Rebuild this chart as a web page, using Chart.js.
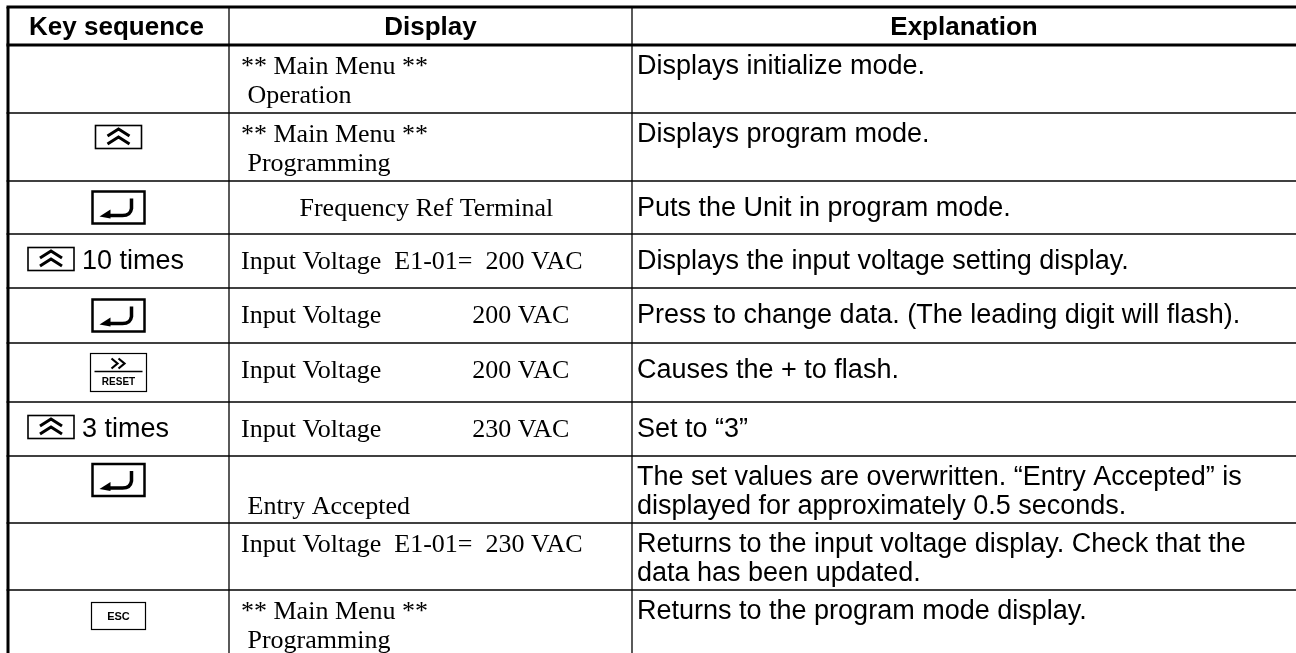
<!DOCTYPE html>
<html>
<head>
<meta charset="utf-8">
<title>Key sequence table</title>
<script src="https://cdn.jsdelivr.net/npm/chart.js"></script>
<style>
  html, body { margin: 0; padding: 0; background: #fff; }
  #wrap { width: 1296px; height: 653px; }
</style>
</head>
<body>
<div id="wrap"><canvas id="tableChart" width="1296" height="653"></canvas></div>
<script>
// Column headers
const headers = ['Key sequence', 'Display', 'Explanation'];

// Key column: key pressed in each step and the repeat note beside it
const keyIcons = ['', 'up', 'enter', 'up', 'enter', 'reset', 'up', 'enter', '', 'esc'];
const keyNotes = ['', '', '', '10 times', '', '', '3 times', '', '', ''];

// Display column: what the operator screen shows (line 1, line 2)
const displayLines = [
  ['** Main Menu **', ' Operation'],
  ['** Main Menu **', ' Programming'],
  ['         Frequency Ref Terminal'],
  ['Input Voltage  E1-01=  200 VAC'],
  ['Input Voltage              200 VAC'],
  ['Input Voltage              200 VAC'],
  ['Input Voltage              230 VAC'],
  ['', ' Entry Accepted'],
  ['Input Voltage  E1-01=  230 VAC'],
  ['** Main Menu **', ' Programming']
];

// Explanation column
const explanations = [
  ['Displays initialize mode.'],
  ['Displays program mode.'],
  ['Puts the Unit in program mode.'],
  ['Displays the input voltage setting display.'],
  ['Press to change data. (The leading digit will flash).'],
  ['Causes the + to flash.'],
  ['Set to \u201c3\u201d'],
  ['The set values are overwritten. \u201cEntry Accepted\u201d is', 'displayed for approximately 0.5 seconds.'],
  ['Returns to the input voltage display. Check that the', 'data has been updated.'],
  ['Returns to the program mode display.']
];

// Layout (in scale units = page pixels)
const colEdges = [8, 229, 632, 1296];
const rowEdges = [7, 45, 113, 181, 234, 288, 343, 402, 456, 523, 590, 658];

const SANS = '"Liberation Sans", Arial, sans-serif';
const SERIF = '"Liberation Serif", "Times New Roman", serif';

function drawUpKey(ctx, cx, cy) {
  ctx.lineWidth = 1.6;
  ctx.strokeRect(cx - 23, cy - 11.5, 46, 23);
  ctx.lineWidth = 3;
  ctx.lineJoin = 'miter';
  [-1, 7].forEach(dy => {
    ctx.beginPath();
    ctx.moveTo(cx - 11, cy + dy);
    ctx.lineTo(cx, cy + dy - 7);
    ctx.lineTo(cx + 11, cy + dy);
    ctx.stroke();
  });
}

function drawEnterKey(ctx, cx, cy) {
  ctx.lineWidth = 2.5;
  ctx.strokeRect(cx - 26, cy - 16, 52, 32);
  ctx.lineWidth = 3.5;
  ctx.beginPath();
  ctx.moveTo(cx + 13, cy - 9);
  ctx.lineTo(cx + 13, cy + 1);
  ctx.quadraticCurveTo(cx + 12, cy + 8, cx + 4, cy + 8);
  ctx.lineTo(cx - 10, cy + 8);
  ctx.stroke();
  ctx.beginPath();
  ctx.moveTo(cx - 19, cy + 9);
  ctx.lineTo(cx - 8, cy + 2);
  ctx.lineTo(cx - 8, cy + 11);
  ctx.closePath();
  ctx.fill();
}

function drawResetKey(ctx, cx, cy) {
  ctx.lineWidth = 1.2;
  ctx.strokeRect(cx - 28, cy - 19, 56, 38);
  ctx.lineWidth = 2.2;
  [-4, 3].forEach(dx => {
    ctx.beginPath();
    ctx.moveTo(cx + dx - 3, cy - 14);
    ctx.lineTo(cx + dx + 3, cy - 9);
    ctx.lineTo(cx + dx - 3, cy - 4);
    ctx.stroke();
  });
  ctx.lineWidth = 1.5;
  ctx.beginPath();
  ctx.moveTo(cx - 24, cy - 1);
  ctx.lineTo(cx + 24, cy - 1);
  ctx.stroke();
  ctx.font = 'bold 10px ' + SANS;
  ctx.textAlign = 'center';
  ctx.fillText('RESET', cx, cy + 12);
}

function drawEscKey(ctx, cx, cy) {
  ctx.lineWidth = 1.2;
  ctx.strokeRect(cx - 27, cy - 13.5, 54, 27);
  ctx.font = 'bold 11px ' + SANS;
  ctx.textAlign = 'center';
  ctx.fillText('ESC', cx, cy + 4);
}

const keyDrawers = { up: drawUpKey, enter: drawEnterKey, reset: drawResetKey, esc: drawEscKey };

const tablePlugin = {
  id: 'keyTable',
  afterDraw(chart) {
    const ctx = chart.ctx;
    const sx = chart.scales.x, sy = chart.scales.y;
    const X = v => sx.getPixelForValue(v);
    const Y = v => sy.getPixelForValue(v);
    const left = X(colEdges[0]), right = X(colEdges[3]);

    ctx.save();
    ctx.fillStyle = '#000';
    ctx.strokeStyle = '#000';
    ctx.textBaseline = 'alphabetic';

    // header texts
    ctx.font = 'bold 26px ' + SANS;
    ctx.textAlign = 'center';
    headers.forEach((h, i) => {
      const cx = (X(colEdges[i]) + X(colEdges[i + 1])) / 2;
      ctx.fillText(h, cx - (i === 0 ? 2 : 0), (Y(rowEdges[0]) + Y(rowEdges[1])) / 2 + 9);
    });

    // body rows
    displayLines.forEach((lines, r) => {
      const top = Y(rowEdges[r + 1]), bottom = Y(rowEdges[r + 2]);
      const twoLine = lines.length > 1 || explanations[r].length > 1;
      const base1 = twoLine ? top + 29 : top + 35;
      const lineGap = 29;

      // key cell
      const icon = keyIcons[r];
      if (icon) {
        const note = keyNotes[r];
        let cx = (X(colEdges[0]) + X(colEdges[1])) / 2;
        let cy = twoLine ? top + 24 : (top + bottom) / 2;
        if (icon === 'esc') cy = top + 26;
        if (note) {
          cx = X(colEdges[0]) + 43;
          cy = top + 25;
          ctx.font = '27px ' + SANS;
          ctx.textAlign = 'left';
          ctx.fillText(note, X(colEdges[0]) + 74, base1);
        }
        keyDrawers[icon](ctx, cx, cy);
      }

      // display cell
      ctx.font = '26px ' + SERIF;
      ctx.textAlign = 'left';
      lines.forEach((t, k) => {
        if (t) ctx.fillText(t, X(colEdges[1]) + 12, base1 + k * lineGap);
      });

      // explanation cell
      ctx.font = '27px ' + SANS;
      explanations[r].forEach((t, k) => {
        ctx.fillText(t, X(colEdges[2]) + 5, base1 + k * lineGap);
      });
    });

    // grid lines
    ctx.lineCap = 'butt';
    rowEdges.forEach((e, i) => {
      if (i === rowEdges.length - 1) return;
      ctx.lineWidth = i < 2 ? 3 : 1.5;
      ctx.beginPath();
      ctx.moveTo(left - 1.5, Y(e));
      ctx.lineTo(right, Y(e));
      ctx.stroke();
    });
    colEdges.forEach((e, i) => {
      if (i === colEdges.length - 1) return;
      ctx.lineWidth = i === 0 ? 3 : 1.3;
      ctx.beginPath();
      ctx.moveTo(X(e), Y(rowEdges[0]));
      ctx.lineTo(X(e), Y(rowEdges[rowEdges.length - 1]));
      ctx.stroke();
    });
    ctx.restore();
  }
};

new Chart(document.getElementById('tableChart'), {
  type: 'scatter',
  data: { datasets: [{ data: [], pointRadius: 0 }] },
  options: {
    responsive: false,
    animation: false,
    devicePixelRatio: 1,
    layout: { padding: 0 },
    plugins: { legend: { display: false }, tooltip: { enabled: false } },
    scales: {
      x: { type: 'linear', min: 0, max: 1296, display: false },
      y: { type: 'linear', min: 0, max: 653, reverse: true, display: false }
    }
  },
  plugins: [tablePlugin]
});
</script>
</body>
</html>
